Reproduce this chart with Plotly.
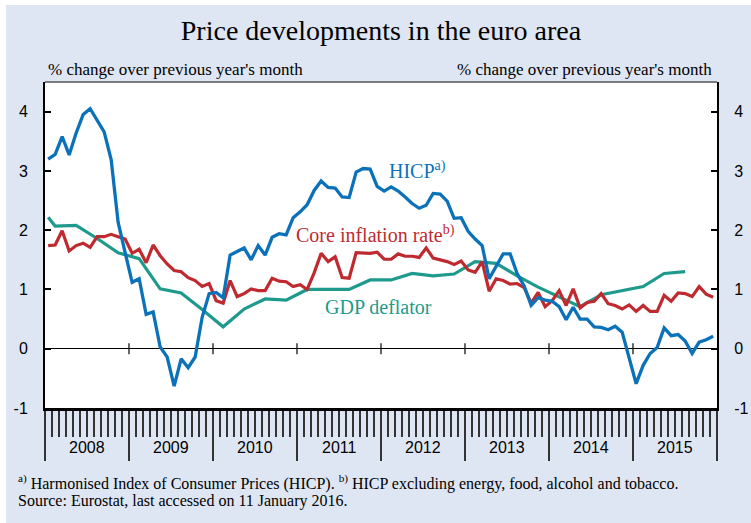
import plotly.graph_objects as go

# ---------------- data ----------------
months = list(range(96))  # Jan 2008 ... Dec 2015

hicp = [3.20, 3.28, 3.58, 3.27, 3.64, 3.95, 4.05, 3.85, 3.66, 3.19, 2.13, 1.62,
        1.12, 1.18, 0.58, 0.62, 0.03, -0.14, -0.63, -0.17, -0.32, -0.14, 0.53, 0.93,
        0.95, 0.86, 1.58, 1.64, 1.70, 1.50, 1.74, 1.58, 1.88, 1.94, 1.92, 2.21,
        2.31, 2.43, 2.67, 2.83, 2.72, 2.71, 2.56, 2.55, 2.98, 3.04, 3.03, 2.74,
        2.66, 2.73, 2.66, 2.56, 2.45, 2.37, 2.42, 2.62, 2.61, 2.49, 2.20, 2.21,
        1.98, 1.85, 1.74, 1.18, 1.40, 1.60, 1.60, 1.27, 1.06, 0.73, 0.86, 0.82,
        0.80, 0.71, 0.49, 0.70, 0.50, 0.50, 0.37, 0.36, 0.32, 0.38, 0.28, -0.14,
        -0.59, -0.28, -0.08, 0.02, 0.35, 0.22, 0.24, 0.13, -0.08, 0.11, 0.15, 0.21]

core = [1.74, 1.75, 1.99, 1.65, 1.74, 1.78, 1.71, 1.89, 1.89, 1.93, 1.89, 1.85,
        1.61, 1.68, 1.45, 1.75, 1.57, 1.43, 1.32, 1.30, 1.20, 1.15, 1.05, 1.10,
        0.81, 0.77, 1.15, 0.88, 0.93, 1.01, 0.98, 0.98, 1.19, 1.14, 1.13, 1.05,
        1.08, 1.00, 1.28, 1.61, 1.47, 1.55, 1.20, 1.19, 1.62, 1.61, 1.61, 1.63,
        1.51, 1.51, 1.60, 1.56, 1.56, 1.54, 1.70, 1.53, 1.50, 1.47, 1.42, 1.48,
        1.33, 1.29, 1.47, 0.97, 1.18, 1.15, 1.09, 1.10, 1.03, 0.77, 0.95, 0.71,
        0.81, 0.98, 0.73, 1.01, 0.69, 0.78, 0.80, 0.93, 0.76, 0.73, 0.67, 0.74,
        0.63, 0.73, 0.63, 0.63, 0.90, 0.80, 0.94, 0.93, 0.88, 1.05, 0.92, 0.87]

# GDP deflator: quarterly, plotted at mid-quarter month
gdp_months = [0, 1, 4, 7, 10, 13, 16, 19, 22, 25, 28, 31, 34, 37, 40, 43, 46,
              49, 52, 55, 58, 61, 64, 67, 70, 73, 76, 79, 82, 85, 88, 91]
gdp = [2.22, 2.07, 2.08, 1.86, 1.62, 1.52, 1.01, 0.94, 0.66, 0.37, 0.67, 0.84,
       0.82, 1.00, 1.00, 1.00, 1.16, 1.16, 1.27, 1.23, 1.26, 1.47, 1.44, 1.23,
       1.04, 0.88, 0.71, 0.91, 0.98, 1.05, 1.27, 1.30]

years = [2008, 2009, 2010, 2011, 2012, 2013, 2014, 2015]
year_labels = ["2008", "2009", "2010", "2011", "2012", "2013", "2014", "2015"]
y_ticks = [-1, 0, 1, 2, 3, 4]
y_tick_labels = ["-1", "0", "1", "2", "3", "4"]

# ---------------- style ----------------
BLUE = "#0B72BA"
RED = "#BF2A30"
TEAL = "#1E9A8C"
BG = "#DFE6F3"
SERIF = "Liberation Serif, Times New Roman, serif"
SANS = "Liberation Sans, Arial, sans-serif"


def mx(m):
    return 2008 + (m + 0.45) / 12.0


fig = go.Figure()
fig.add_trace(go.Scatter(x=[mx(m) for m in gdp_months], y=gdp, mode="lines",
                         line=dict(color=TEAL, width=3.2), hoverinfo="skip"))
fig.add_trace(go.Scatter(x=[mx(m) for m in months], y=core, mode="lines",
                         line=dict(color=RED, width=3.2), hoverinfo="skip"))
fig.add_trace(go.Scatter(x=[mx(m) for m in months], y=hicp, mode="lines",
                         line=dict(color=BLUE, width=3.3), hoverinfo="skip"))
# small year marks on the zero line
fig.add_trace(go.Scatter(x=years[1:], y=[0] * (len(years) - 1), mode="markers",
                         marker=dict(symbol="line-ns", size=8,
                                     line=dict(width=1.2, color="black")),
                         hoverinfo="skip"))
# dummy trace for right axis
fig.add_trace(go.Scatter(x=[2008], y=[None], yaxis="y2", hoverinfo="skip"))

yax_common = dict(range=[-1, 4.5], tickmode="array", tickvals=y_ticks, ticktext=y_tick_labels,
                  ticks="inside", ticklen=6, tickwidth=1.5, tickcolor="black",
                  showgrid=False, showline=True, linewidth=2, linecolor="black",
                  tickfont=dict(family=SANS, size=16, color="black"),
                  ticklabelstandoff=12, fixedrange=True, automargin=False)

fig.update_layout(
    width=751, height=523,
    margin=dict(l=45, r=34, t=82, b=115, autoexpand=False),
    paper_bgcolor=BG, plot_bgcolor="white",
    showlegend=False,
    title=dict(text="Price developments in the euro area", x=0.5, xref="paper",
               y=1 - 30 / 523, yref="container", yanchor="middle", xanchor="center",
               automargin=False,
               font=dict(family=SERIF, size=28, color="black")),
    xaxis=dict(range=[2008, 2016], tickmode="array", tickvals=list(range(2008, 2017)),
               ticks="outside", ticklen=50, tickwidth=1.5, tickcolor="#333",
               showticklabels=False, showgrid=False, zeroline=False,
               showline=True, linewidth=2.5, linecolor="black",
               minor=dict(tick0=2008, dtick=1 / 12, ticks="outside", ticklen=26,
                          tickwidth=1.5, tickcolor="#333", showgrid=False),
               fixedrange=True, automargin=False),
    yaxis=dict(**yax_common, zeroline=True, zerolinecolor="black", zerolinewidth=1.2),
    yaxis2=dict(**yax_common, overlaying="y", side="right", zeroline=False),
)

annotations = []
# year labels
for yv, lab in zip(years, year_labels):
    annotations.append(dict(x=yv + 0.5, y=-0.1213, xref="x", yref="paper", text=lab,
                            showarrow=False, xanchor="center", yanchor="middle",
                            font=dict(family=SANS, size=16, color="black")))
# unit labels
annotations.append(dict(x=0.0015, y=1.0369, xref="paper", yref="paper",
                        text="% change over previous year's month", showarrow=False,
                        xanchor="left", yanchor="middle",
                        font=dict(family=SERIF, size=17, color="black")))
annotations.append(dict(x=0.9955, y=1.0369, xref="paper", yref="paper",
                        text="% change over previous year's month", showarrow=False,
                        xanchor="right", yanchor="middle",
                        font=dict(family=SERIF, size=17, color="black")))
# series labels
annotations.append(dict(x=2012.43, y=3.01, xref="x", yref="y", text="HICP<sup>a)</sup>",
                        showarrow=False, xanchor="center", yanchor="middle",
                        font=dict(family=SERIF, size=20, color=BLUE)))
annotations.append(dict(x=2011.94, y=1.93, xref="x", yref="y",
                        text="Core inflation rate<sup>b)</sup>",
                        showarrow=False, xanchor="center", yanchor="middle",
                        font=dict(family=SERIF, size=20, color=RED)))
annotations.append(dict(x=2011.976, y=0.70, xref="x", yref="y", text="GDP deflator",
                        showarrow=False, xanchor="center", yanchor="middle",
                        font=dict(family=SERIF, size=20, color=TEAL)))
# footnotes
annotations.append(dict(x=-0.0432, y=-0.2289, xref="paper", yref="paper",
                        text="<sup>a)</sup> Harmonised Index of Consumer Prices (HICP). "
                             "<sup>b)</sup> HICP excluding energy, food, alcohol and tobacco.",
                        showarrow=False, xanchor="left", yanchor="middle",
                        font=dict(family=SERIF, size=16, color="black")))
annotations.append(dict(x=-0.0432, y=-0.2842, xref="paper", yref="paper",
                        text="Source: Eurostat, last accessed on 11 January 2016.",
                        showarrow=False, xanchor="left", yanchor="middle",
                        font=dict(family=SERIF, size=16, color="black")))
fig.update_layout(annotations=annotations)

# white outer margin (top & left) and top frame line
fig.update_layout(shapes=[
    dict(type="rect", xref="paper", yref="paper", x0=-0.2, x1=1.2,
         y0=(407.5 - 5) / 325.5, y1=1.4, fillcolor="white", line=dict(width=0), layer="below"),
    dict(type="rect", xref="paper", yref="paper", x0=-0.2, x1=(6 - 45) / 672,
         y0=-0.5, y1=1.4, fillcolor="white", line=dict(width=0), layer="below"),
    dict(type="line", xref="paper", yref="paper", x0=0, x1=1, y0=1, y1=1,
         line=dict(color="#555", width=1.5)),
])

fig.write_html("out.html",
               config={"displayModeBar": False},
               post_script="document.body.style.margin='0px';"
                           "document.body.style.overflow='hidden';")
